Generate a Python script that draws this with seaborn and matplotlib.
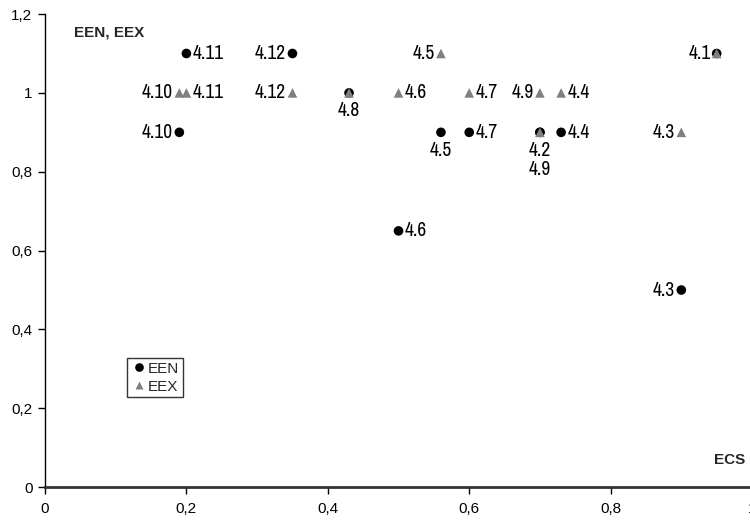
import pandas as pd
import seaborn as sns
import matplotlib.pyplot as plt
from matplotlib.ticker import FuncFormatter

# values
codes = ["4.1", "4.2", "4.3", "4.4", "4.5", "4.6", "4.7", "4.8", "4.9", "4.10", "4.11", "4.12"]
ecs = [0.95, 0.70, 0.90, 0.73, 0.56, 0.50, 0.60, 0.43, 0.70, 0.19, 0.20, 0.35]
een = [1.10, 0.90, 0.50, 0.90, 0.90, 0.65, 0.90, 1.00, 0.90, 0.90, 1.10, 1.10]
eex = [1.10, 0.90, 0.90, 1.00, 1.10, 1.00, 1.00, 1.00, 1.00, 1.00, 1.00, 1.00]

# which points carry a label and on which side (r / l / b = below, bb = further below)
label_sides = [
    ("EEN", "4.11", "r"), ("EEN", "4.12", "l"), ("EEN", "4.10", "l"),
    ("EEN", "4.5", "b"), ("EEN", "4.7", "r"), ("EEN", "4.2", "b"),
    ("EEN", "4.9", "bb"), ("EEN", "4.4", "r"), ("EEN", "4.6", "r"),
    ("EEN", "4.3", "l"),
    ("EEX", "4.10", "l"), ("EEX", "4.11", "r"), ("EEX", "4.12", "l"),
    ("EEX", "4.8", "b"), ("EEX", "4.6", "r"), ("EEX", "4.5", "l"),
    ("EEX", "4.7", "r"), ("EEX", "4.9", "l"), ("EEX", "4.4", "r"),
    ("EEX", "4.1", "l"), ("EEX", "4.3", "l"),
]

df = pd.concat([
    pd.DataFrame({"code": codes, "ECS": ecs, "value": een, "series": "EEN"}),
    pd.DataFrame({"code": codes, "ECS": ecs, "value": eex, "series": "EEX"}),
], ignore_index=True)

sns.set_style("white")
narrow = ["Liberation Sans Narrow", "Arial Narrow", "Archivo Narrow",
          "PT Sans Narrow", "Liberation Sans", "DejaVu Sans"]
plain = ["Liberation Sans", "DejaVu Sans"]
plt.rcParams["font.family"] = plain

fig = plt.figure(figsize=(7.5, 5.21), dpi=100)
ax = fig.add_axes([0.06, 0.065, 0.9427, 0.908])

sns.scatterplot(data=df, x="ECS", y="value", hue="series", style="series",
                hue_order=["EEN", "EEX"],
                palette={"EEN": "black", "EEX": "#808080"},
                markers={"EEN": "o", "EEX": "^"},
                s=48, edgecolor="none", ax=ax, legend=True, zorder=3)

offsets = {"r": (4.5, 0, "left"), "l": (-4.5, 0, "right"),
           "b": (0, -13, "center"), "bb": (0, -26.5, "center")}
for series, code, side in label_sides:
    row = df[(df.series == series) & (df.code == code)].iloc[0]
    dx, dy, ha = offsets[side]
    ax.annotate(code, (row.ECS, row.value), xytext=(dx, dy),
                textcoords="offset points", ha=ha, va="center",
                fontsize=14, color="black", family=narrow)

ax.set_xlim(0, 1)
ax.set_ylim(0, 1.2)
ax.set_xticks([0, 0.2, 0.4, 0.6, 0.8, 1.0])
ax.set_yticks([0, 0.2, 0.4, 0.6, 0.8, 1.0, 1.2])
comma = FuncFormatter(lambda v, p: ("%g" % round(v, 2)).replace(".", ","))
ax.xaxis.set_major_formatter(comma)
ax.yaxis.set_major_formatter(comma)
ax.tick_params(axis="both", direction="out", length=5, width=1, colors="black",
               labelsize=11, pad=4, bottom=True, left=True)
ax.tick_params(axis="x", pad=6)
ax.set_xlabel("")
ax.set_ylabel("")

sns.despine(ax=ax)
ax.spines["left"].set_color("black")
ax.spines["left"].set_linewidth(1.0)
ax.spines["bottom"].set_color("#333333")
ax.spines["bottom"].set_linewidth(2.0)

ax.text(0.041, 0.962, "EEN, EEX", transform=ax.transAxes, fontsize=11,
        fontweight="bold", va="center")
ax.text(0.99, 0.057, "ECS", transform=ax.transAxes, fontsize=11,
        fontweight="bold", ha="right", va="center")

leg = ax.legend(loc="upper left", bbox_to_anchor=(0.116, 0.273), frameon=True,
                fancybox=False, edgecolor="black", fontsize=11,
                handletextpad=0.0, handlelength=1.1, borderpad=0.25,
                labelspacing=0.25, borderaxespad=0, markerscale=0.9)
leg.get_frame().set_linewidth(1.0)

fig.savefig("out.png", dpi=100)
